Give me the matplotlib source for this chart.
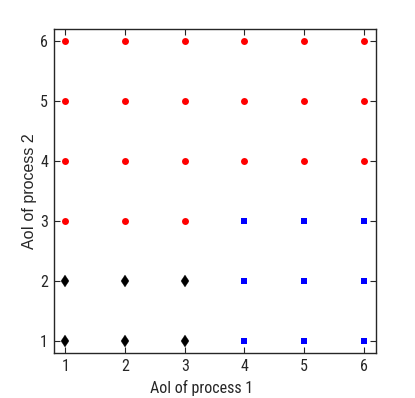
import matplotlib
matplotlib.use('Agg')
import matplotlib.pyplot as plt

# El original tiene el texto horizontal angosto y el vertical normal
fuente_angosta = ['Roboto Condensed', 'Archivo Narrow', 'Liberation Sans', 'DejaVu Sans']
fuente_normal = ['Liberation Sans', 'DejaVu Sans']
plt.rcParams['font.family'] = fuente_angosta

# Puntos por región (AoI proceso 1, AoI proceso 2)
rojo_x = [1, 2, 3, 1, 2, 3, 1, 2, 3, 1, 2, 3, 4, 5, 6, 4, 5, 6, 4, 5, 6]
rojo_y = [3, 3, 3, 4, 4, 4, 5, 5, 5, 6, 6, 6, 4, 4, 4, 5, 5, 5, 6, 6, 6]
azul_x = [4, 5, 6, 4, 5, 6, 4, 5, 6]
azul_y = [1, 1, 1, 2, 2, 2, 3, 3, 3]
negro_x = [1, 2, 3, 1, 2, 3]
negro_y = [1, 1, 1, 2, 2, 2]
ticks = [1, 2, 3, 4, 5, 6]

fig = plt.figure(figsize=(4.15, 3.98), dpi=100)
ax = fig.add_axes([0.129, 0.113, 0.776, 0.814])

ax.plot(rojo_x, rojo_y, 'o', color='red', markersize=5, mew=0, linestyle='none')
ax.plot(azul_x, azul_y, 's', color='blue', markersize=4.3, mew=0, linestyle='none')
ax.plot(negro_x, negro_y, 'd', color='black', markersize=6.5, mew=0.2, linestyle='none')

ax.set_xlim(0.8, 6.2)
ax.set_ylim(0.8, 6.2)
ax.set_xticks(ticks)
ax.set_yticks(ticks)
ax.tick_params(direction='in', top=True, right=True, length=4, width=0.8,
               labelsize=11.5, colors='#262626', labelcolor='#262626', pad=4)
for s in ax.spines.values():
    s.set_color('#262626')
    s.set_linewidth(1.0)

ax.set_xlabel('AoI of process 1', fontsize=11.5, color='#262626')
ax.xaxis.set_label_coords(0.46, -0.083)
ax.set_ylabel('AoI of process 2', fontsize=11.5, color='#262626', labelpad=2,
              family=fuente_normal)

fig.savefig('out.png', dpi=100)
